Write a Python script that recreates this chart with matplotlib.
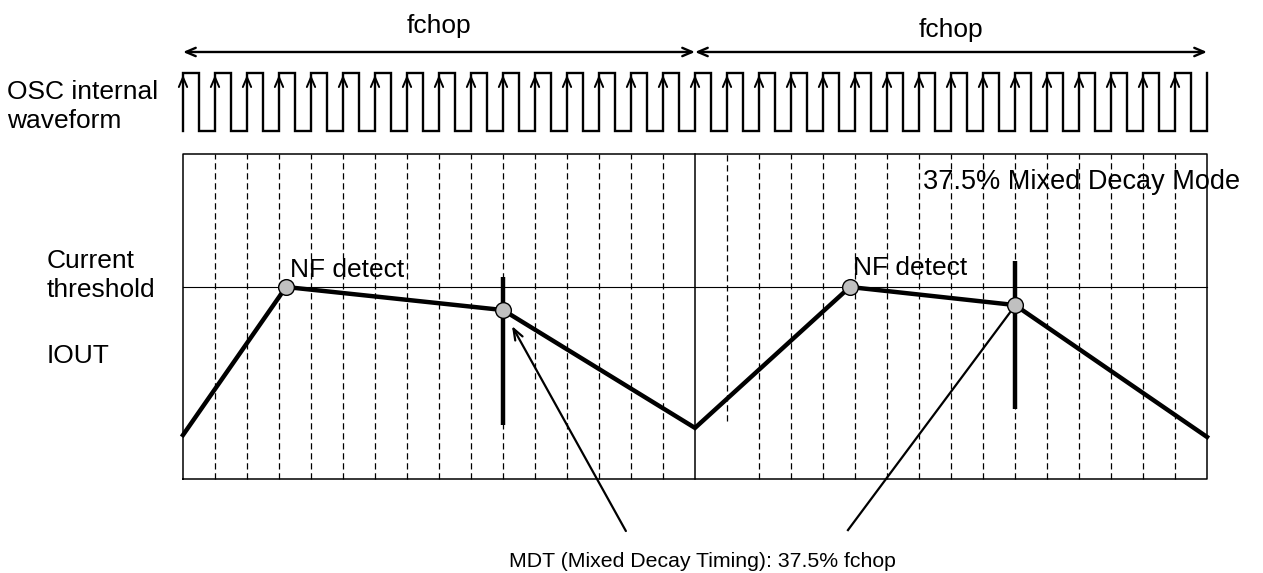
import numpy as np
import matplotlib.pyplot as plt

plt.rcParams['font.family'] = ['Liberation Sans', 'DejaVu Sans']

# time axis in OSC periods (16 periods = 1 fchop), current in units of threshold
n_periods = 32
fchop_len = 16
osc_duty = 0.5
osc_low, osc_high = 1.81, 2.115

# IOUT trace
iout_t = [0, 3.22, 10, 16, 20.84, 26, 32]
iout_v = [0.229, 1.0, 0.88, 0.266, 1.0, 0.906, 0.219]

# NF detect and MDT points
nf_t = [3.22, 20.84]
nf_v = [1.0, 1.0]
mdt_t = [10, 26]
mdt_v = [0.88, 0.906]
mdt_bar_lo = [0.281, 0.365]
mdt_bar_hi = [1.052, 1.135]

threshold = 1.0
box_top = 1.693
# one dashed grid line stops short in the original
dash_short = {17: 0.302}

fig = plt.figure(figsize=(12.63, 5.73), dpi=100)
ax = fig.add_axes([0, 0, 1, 1])
ax.set_xlim(-183 / 32, 1080 / 32)
ax.set_ylim(-94 / 192, 479 / 192)
ax.axis('off')

# OSC waveform
wx, wy = [0], [osc_low]
for k in range(n_periods):
    wx += [k, k + osc_duty, k + osc_duty, k + 1]
    wy += [osc_high, osc_high, osc_low, osc_low]
wx.append(n_periods)
wy.append(osc_high)
ax.plot(wx, wy, color='black', lw=1.7, solid_joinstyle='miter')
for k in range(n_periods):
    ax.annotate('', xy=(k, osc_high - 0.01), xytext=(k, osc_high - 0.12),
                arrowprops=dict(arrowstyle='->,head_length=0.7,head_width=0.3',
                                lw=1.4, color='black', shrinkA=0, shrinkB=0))

# fchop arrows
ya = 2.224
for i, y_txt in enumerate([2.36, 2.34]):
    a, b = i * fchop_len, (i + 1) * fchop_len
    ax.annotate('', xy=(a, ya), xytext=(b, ya),
                arrowprops=dict(arrowstyle='<->,head_length=0.7,head_width=0.3',
                                lw=1.7, color='black', shrinkA=0, shrinkB=0))
    ax.text((a + b) / 2, y_txt, 'fchop', ha='center', va='center', fontsize=19)

# box, divider, threshold
ax.plot([0, n_periods, n_periods, 0, 0], [0, 0, box_top, box_top, 0],
        color='black', lw=1.1)
ax.plot([fchop_len, fchop_len], [0, box_top], color='black', lw=1.1)
ax.plot([0, n_periods], [threshold, threshold], color='black', lw=0.8)

for k in range(1, n_periods):
    if k == fchop_len:
        continue
    bottom = dash_short.get(k, 0)
    ax.plot([k, k], [bottom, box_top], color='black', lw=0.9,
            linestyle=(0, (5, 3)))

# MDT bars
for t, lo, hi in zip(mdt_t, mdt_bar_lo, mdt_bar_hi):
    ax.plot([t, t], [lo, hi], color='black', lw=3.2, solid_capstyle='butt')

# IOUT
ax.plot(iout_t, iout_v, color='black', lw=3.2, solid_joinstyle='miter')
ax.plot(nf_t + mdt_t, nf_v + mdt_v, 'o', ms=11.3, mfc='#c0c0c0', mec='black',
        mew=1.0, zorder=5)

# labels
ax.text(-5.5, 1.94, 'OSC internal\nwaveform', ha='left', va='center',
        fontsize=19, linespacing=1.3)
ax.text(-4.25, 1.06, 'Current\nthreshold', ha='left', va='center',
        fontsize=19, linespacing=1.3)
ax.text(-4.25, 0.64, 'IOUT', ha='left', va='center', fontsize=19)
ax.text(23.125, 1.51, '37.5% Mixed Decay Mode', ha='left', va='baseline',
        fontsize=19.5, zorder=6)
ax.text(3.34, 1.052, 'NF detect', ha='left', va='baseline', fontsize=19, zorder=6)
ax.text(20.94, 1.0625, 'NF detect', ha='left', va='baseline', fontsize=19, zorder=6)

# MDT callout
ax.text(16.22, -0.458, 'MDT (Mixed Decay Timing): 37.5% fchop', ha='center',
        va='baseline', fontsize=15.3)
ax.annotate('', xy=(10.28, 0.797), xytext=(13.84, -0.271),
            arrowprops=dict(arrowstyle='->,head_length=0.8,head_width=0.3',
                            lw=1.6, color='black', shrinkA=0, shrinkB=0))
ax.plot([20.78, 25.9], [-0.266, 0.88], color='black', lw=1.6)

fig.savefig('out.png', dpi=100)
